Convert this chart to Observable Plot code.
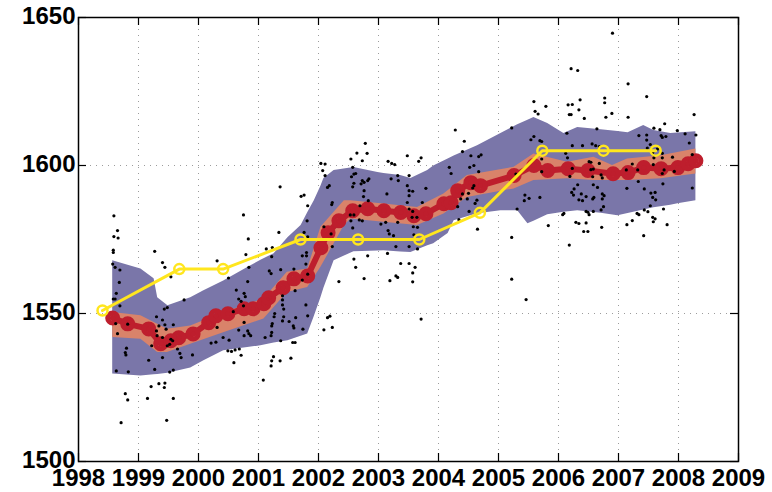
<!DOCTYPE html>
<html>
<head>
<meta charset="utf-8">
<script src="https://cdn.jsdelivr.net/npm/d3@7"></script>
<script src="https://cdn.jsdelivr.net/npm/@observablehq/plot@0.6"></script>
<style>
  html, body { margin: 0; padding: 0; background: #fff; }
  #chart { width: 772px; height: 492px; overflow: hidden; }
</style>
</head>
<body>
<div id="chart"></div>
<script>
// ---- tick labels ----
const xTicks = [1998, 1999, 2000, 2001, 2002, 2003, 2004, 2005, 2006, 2007, 2008, 2009];
const yTicks = [1500, 1550, 1600, 1650];
const xGrid = [1999, 2000, 2001, 2002, 2003, 2004, 2005, 2006, 2007, 2008];
const yGrid = [1550, 1600];

// ---- yellow series ----
const yellowYear = [1998.4, 1999.68, 2000.41, 2001.7, 2002.66, 2003.68, 2004.69, 2005.73, 2006.75, 2007.62];
const yellowVal  = [1551, 1565, 1565, 1575, 1575, 1575, 1584, 1605, 1605, 1605];

// ---- red series ----
const redYear = [1998.57, 1998.82, 1999.17, 1999.37, 1999.54, 1999.67, 1999.91, 2000.17, 2000.29, 2000.49,
  2000.76, 2000.91, 2001.09, 2001.17, 2001.41, 2001.59, 2001.82, 2002.04, 2002.16, 2002.34,
  2002.57, 2002.82, 2003.09, 2003.37, 2003.59, 2003.79, 2004.09, 2004.21, 2004.32, 2004.54,
  2004.70, 2005.26, 2005.59, 2005.82, 2006.16, 2006.49, 2006.91, 2007.16, 2007.42, 2007.71,
  2007.99, 2008.16, 2008.29];
const redVal = [1548.5, 1546.5, 1544.8, 1539.8, 1540.8, 1541.8, 1543.1, 1546.9, 1549.2, 1549.9,
  1551.6, 1551.6, 1553.3, 1555.3, 1558.7, 1561.7, 1562.7, 1572.2, 1577.3, 1581.3,
  1584.7, 1585.4, 1584.7, 1584.1, 1583.0, 1583.7, 1587.1, 1587.4, 1591.5, 1594.2,
  1593.2, 1596.6, 1600.0, 1598.3, 1598.9, 1598.3, 1597.2, 1597.6, 1599.3, 1598.9,
  1599.3, 1600.6, 1601.6];

// ---- wide (blue) band ----
const blueYear = [1998.57, 1999.04, 1999.26, 1999.32, 1999.49, 1999.87, 2000.09, 2000.42, 2000.82, 2001.04,
  2001.26, 2001.49, 2001.71, 2001.82, 2001.93, 2002.04, 2002.09, 2002.26, 2002.59, 2002.99,
  2003.09, 2003.37, 2003.54, 2003.82, 2003.92, 2004.16, 2004.26, 2004.65, 2005.04, 2005.32,
  2005.49, 2005.59, 2005.82, 2006.09, 2006.32, 2006.71, 2006.99, 2007.16, 2007.42, 2007.59,
  2007.87, 2007.99, 2008.29];
const blueUpper = [1567.8, 1565.0, 1561.7, 1555.3, 1552.6, 1555.3, 1557.7, 1561.0, 1565.5, 1568.0,
  1570.2, 1575.6, 1579.7, 1584.0, 1588.1, 1593.0, 1595.6, 1598.3, 1599.3, 1597.6,
  1597.3, 1596.6, 1595.6, 1598.3, 1599.8, 1602.2, 1603.2, 1606.7, 1610.8, 1613.8,
  1615.3, 1616.2, 1614.2, 1610.8, 1612.8, 1612.1, 1611.5, 1611.1, 1613.5, 1611.8,
  1610.8, 1611.0, 1611.4];
const blueLower = [1529.6, 1528.9, 1529.3, 1529.4, 1529.8, 1531.6, 1534.0, 1537.4, 1538.5, 1539.1,
  1540.0, 1540.8, 1542.3, 1543.1, 1549.0, 1555.3, 1558.5, 1567.8, 1570.9, 1571.1,
  1571.2, 1570.8, 1570.6, 1572.9, 1573.6, 1577.0, 1581.3, 1583.7, 1584.7, 1584.7,
  1580.3, 1581.2, 1583.4, 1584.2, 1584.7, 1583.9, 1583.0, 1583.8, 1585.0, 1585.7,
  1586.6, 1587.1, 1588.1];

// ---- narrow (orange) band ----
const orangeYear = [1998.57, 1999.04, 1999.32, 1999.48, 1999.87, 2000.43, 2001.09, 2001.48, 2001.82, 2002.04,
  2002.43, 2002.54, 2003.09, 2003.65, 2004.09, 2004.48, 2005.26, 2005.59, 2006.15, 2006.59,
  2006.90, 2007.15, 2007.71, 2008.29];
const orangeUpper = [1550.3, 1549.2, 1546.4, 1544.7, 1545.8, 1550.3, 1554.9, 1563.9, 1565.0, 1579.1,
  1588.1, 1588.1, 1587.0, 1585.8, 1590.4, 1596.6, 1599.4, 1603.9, 1601.1, 1602.8,
  1600.0, 1602.2, 1603.3, 1605.6];
const orangeLower = [1541.9, 1541.3, 1536.8, 1536.8, 1539.6, 1543.6, 1548.1, 1557.1, 1558.8, 1565.6,
  1579.7, 1581.9, 1580.8, 1579.7, 1583.6, 1589.2, 1592.1, 1594.9, 1595.5, 1594.9,
  1594.9, 1594.9, 1595.5, 1597.1];

// ---- scatter observations [year, value] ----
const scatter = [
 [1998.59,1583.0],[1998.65,1578.0],[1998.59,1576.0],[1998.66,1575.5],[1998.58,1571.4],[1998.58,1570.6],
 [1999.27,1571.0],[1999.40,1567.2],[1999.44,1565.6],[1998.57,1566.7],[1998.61,1565.6],[1998.69,1564.7],
 [1998.68,1560.5],[1999.54,1562.4],[1998.63,1556.8],[1998.58,1554.9],[1998.61,1554.9],[1998.69,1552.6],
 [1999.76,1554.6],[1999.48,1552.0],[1999.43,1551.5],[1999.30,1548.9],[1999.40,1547.8],[1999.34,1545.8],
 [1999.44,1546.2],[1999.58,1546.2],[1999.46,1544.7],[1998.62,1546.6],[1998.82,1546.4],[1999.30,1544.1],
 [1999.31,1542.5],[1999.40,1541.9],[1999.54,1541.3],[1999.57,1540.8],[1999.52,1539.6],[1999.48,1539.1],
 [1999.22,1539.1],[1999.40,1535.1],[1998.65,1543.2],[1998.80,1538.3],[1998.78,1536.8],[1998.79,1536.0],
 [1999.17,1534.2],[1999.65,1538.0],[1999.69,1536.5],[1999.90,1536.0],[1999.71,1535.1],[1998.63,1530.6],
 [1998.83,1530.3],[1999.27,1531.1],[1999.52,1530.2],[1999.58,1530.9],[1999.34,1526.3],[1999.44,1526.5],
 [1999.21,1525.3],[1999.43,1525.0],[1998.78,1522.9],[1998.82,1520.8],[1999.15,1521.3],[1999.58,1521.3],
 [1998.71,1513.1],[1999.47,1513.9],
 [2001.36,1592.8],[2001.71,1589.6],[2001.76,1590.0],[2001.82,1586.4],[2000.75,1583.3],[2001.81,1581.3],
 [2001.34,1577.4],[2000.83,1575.2],[2001.76,1577.4],[2001.82,1575.9],[2001.13,1571.8],[2001.23,1572.3],
 [2001.22,1569.2],[2001.80,1570.6],[2001.73,1569.5],[2001.80,1569.5],[2000.79,1569.9],[2000.31,1567.8],
 [2000.84,1565.6],[2001.18,1564.4],[2001.21,1563.5],[2001.37,1564.8],[2001.79,1566.7],[2000.50,1562.0],
 [2000.82,1560.8],[2001.73,1561.3],[2001.82,1563.3],[2001.59,1565.0],[2000.63,1557.9],[2000.76,1556.8],
 [2001.61,1557.7],[2000.67,1554.9],[2000.71,1554.1],[2000.78,1555.7],[2000.75,1552.6],[2000.58,1550.6],
 [2001.40,1554.6],[2001.40,1552.9],[2001.42,1551.5],[2001.40,1556.0],[2001.27,1550.0],[2001.26,1548.9],
 [2001.42,1548.9],[2001.62,1548.6],[2001.82,1549.2],[2001.23,1546.6],[2001.22,1545.8],[2001.40,1547.5],
 [2001.51,1547.3],[2001.58,1545.8],[2001.59,1545.1],[2001.74,1544.7],[2000.31,1545.3],[2000.76,1547.0],
 [2000.67,1544.4],[2000.82,1544.1],[2000.84,1543.2],[2000.87,1542.5],[2000.76,1542.5],[2001.22,1543.6],
 [2001.21,1542.5],[2001.11,1541.9],[2000.41,1541.9],[2000.51,1541.0],[2000.21,1540.0],[2000.29,1540.3],
 [2001.37,1540.8],[2001.57,1540.2],[2001.61,1540.2],[2000.49,1537.4],[2000.55,1537.2],[2000.61,1537.7],
 [2000.68,1538.0],[2000.71,1535.9],[2000.59,1533.4],[2001.25,1535.4],[2001.22,1534.0],[2001.36,1534.0],
 [2001.21,1532.3],[2001.54,1534.9],[2001.08,1527.5],
 [2002.78,1607.5],[2002.64,1604.2],[2002.81,1604.1],[2002.54,1602.2],[2002.73,1601.6],[2002.04,1600.7],
 [2002.11,1600.5],[2003.16,1601.4],[2003.22,1600.7],[2003.27,1600.3],[2002.07,1598.3],[2002.11,1596.6],
 [2002.57,1599.4],[2002.59,1597.1],[2002.62,1597.3],[2002.55,1596.2],[2002.73,1594.9],[2002.76,1594.3],
 [2002.84,1595.5],[2002.71,1593.8],[2002.82,1594.9],[2003.32,1596.6],[2003.33,1594.9],[2003.21,1595.5],
 [2003.48,1603.3],[2003.51,1596.6],[2003.48,1593.2],[2003.51,1591.5],[2002.15,1592.6],[2002.18,1593.2],
 [2002.59,1594.0],[2002.57,1592.8],[2002.76,1591.5],[2002.75,1589.5],[2003.51,1589.8],[2003.14,1590.4],
 [2003.48,1587.5],[2002.23,1587.5],[2002.22,1586.8],[2002.83,1588.1],[2002.69,1586.4],[2002.59,1583.3],
 [2002.53,1583.3],[2002.54,1581.3],[2002.57,1578.9],[2002.68,1581.6],[2002.73,1581.3],[2003.04,1580.2],
 [2003.12,1580.8],[2003.32,1580.8],[2003.16,1578.0],[2003.18,1576.9],[2003.25,1576.3],[2002.09,1579.3],
 [2002.21,1576.9],[2002.23,1572.6],[2003.29,1572.6],[2002.82,1569.5],[2002.59,1568.4],[2002.62,1565.6],
 [2003.15,1570.3],[2003.37,1566.9],[2003.51,1566.9],[2002.34,1560.8],[2002.76,1561.8],[2003.19,1561.1],
 [2003.29,1562.7],[2003.32,1562.2],[2001.79,1552.9],[2002.15,1548.6],[2002.19,1549.1],[2002.23,1545.3],
 [2002.09,1544.5],
 [2004.28,1612.0],[2005.22,1612.7],[2004.43,1608.2],[2004.40,1604.7],[2004.54,1603.3],[2004.67,1603.0],
 [2004.71,1603.6],[2003.71,1602.6],[2003.67,1601.4],[2004.18,1599.4],[2004.21,1597.3],[2004.59,1600.0],
 [2004.52,1599.4],[2004.67,1597.9],[2003.79,1592.3],[2003.57,1591.3],[2003.51,1585.3],[2003.57,1584.5],
 [2003.56,1582.5],[2003.64,1582.5],[2003.73,1587.5],[2004.59,1593.2],[2004.57,1592.4],[2004.50,1590.6],
 [2004.40,1590.4],[2004.37,1588.7],[2004.48,1588.7],[2004.64,1588.3],[2004.61,1587.2],[2004.32,1586.1],
 [2004.51,1584.5],[2004.34,1581.7],[2004.65,1578.5],[2003.58,1579.3],[2003.65,1579.1],[2003.59,1576.6],
 [2003.51,1572.6],[2003.65,1571.8],[2003.61,1565.6],[2003.57,1563.7],[2003.57,1560.7],[2005.22,1575.7],
 [2005.22,1561.6],[2003.71,1548.1],
 [2006.21,1632.7],[2006.32,1632.1],[2005.59,1621.6],[2005.79,1620.0],[2006.16,1620.5],[2006.23,1620.6],
 [2006.36,1622.2],[2006.77,1622.8],[2006.77,1621.2],[2005.61,1618.3],[2005.66,1617.4],[2006.18,1617.2],
 [2006.21,1617.2],[2006.34,1618.8],[2006.43,1615.9],[2006.79,1616.3],[2006.89,1617.6],[2006.14,1610.9],
 [2006.64,1612.4],[2005.54,1608.7],[2005.59,1609.8],[2005.69,1608.4],[2005.72,1608.1],[2006.23,1606.7],
 [2006.40,1606.7],[2006.56,1607.3],[2006.62,1606.7],[2006.68,1606.4],[2006.12,1604.1],[2006.15,1602.6],
 [2006.51,1601.3],[2006.54,1601.1],[2006.68,1600.7],[2005.72,1602.2],[2006.23,1599.0],[2006.54,1598.6],
 [2006.58,1598.8],[2005.72,1597.9],[2006.19,1596.3],[2006.57,1596.2],[2006.71,1596.8],[2006.73,1595.8],
 [2005.29,1597.1],[2006.32,1593.5],[2006.58,1593.5],[2006.65,1592.6],[2006.26,1592.1],[2006.22,1590.9],
 [2006.25,1590.0],[2006.38,1590.4],[2006.46,1589.5],[2006.59,1589.2],[2006.73,1590.4],[2006.76,1589.8],
 [2006.34,1588.4],[2006.40,1588.1],[2006.57,1588.7],[2006.73,1588.7],[2005.44,1590.0],[2005.51,1588.9],
 [2005.43,1588.1],[2005.69,1589.2],[2005.31,1585.3],[2006.09,1583.8],[2006.07,1583.4],[2006.46,1584.5],
 [2006.49,1584.2],[2006.51,1583.4],[2006.58,1584.5],[2006.71,1585.0],[2006.75,1586.1],[2006.29,1580.8],
 [2006.34,1580.4],[2006.46,1580.6],[2005.83,1579.7],[2006.42,1577.7],[2006.49,1577.7],[2006.72,1579.1],
 [2006.18,1573.1],[2005.46,1554.7],
 [2006.90,1644.7],[2007.16,1627.6],[2007.47,1623.3],[2007.16,1616.3],[2008.26,1617.2],[2007.77,1614.1],
 [2007.59,1612.6],[2007.69,1612.1],[2007.34,1610.1],[2007.47,1610.3],[2007.71,1610.1],[2007.73,1609.5],
 [2007.79,1609.8],[2007.98,1611.8],[2008.11,1610.7],[2008.29,1610.3],[2007.47,1608.6],[2007.53,1607.1],
 [2008.18,1607.6],[2007.48,1605.9],[2007.65,1605.6],[2007.73,1604.1],[2007.57,1604.4],[2008.23,1603.7],
 [2007.90,1602.8],[2007.59,1602.6],[2007.73,1602.6],[2007.23,1600.5],[2007.58,1600.3],[2007.32,1598.5],
 [2007.13,1598.5],[2007.76,1598.5],[2007.73,1597.3],[2007.93,1598.0],[2007.33,1594.6],[2007.74,1593.8],
 [2007.14,1592.3],[2007.43,1592.1],[2008.23,1592.4],[2007.54,1590.7],[2007.61,1590.9],[2007.57,1589.2],
 [2007.62,1588.4],[2007.53,1586.4],[2007.75,1585.3],[2007.43,1585.0],[2007.49,1584.4],[2007.31,1583.8],
 [2007.34,1583.4],[2007.57,1582.5],[2007.61,1582.0],[2007.58,1581.0],[2007.23,1581.4],[2007.14,1580.0],
 [2007.81,1580.0],[2007.42,1576.3]
];

// ---- tables built from the arrays ----
const yellow = yellowYear.map((x, i) => ({x, y: yellowVal[i]}));
const red = redYear.map((x, i) => ({x, y: redVal[i]}));
const blue = blueYear.map((x, i) => ({x, lo: blueLower[i], hi: blueUpper[i]}));
const orange = orangeYear.map((x, i) => ({x, lo: orangeLower[i], hi: orangeUpper[i]}));

const W = 772, H = 492;
const mL = 78, mR = 34, mT = 17, mB = 31;
const plotH = H - mT - mB, plotW = W - mL - mR;
const tick = 8;

const COL_BLUE = "#7a76a9";
const COL_ORANGE = "#d9836a";
const COL_RED = "#be1e2d";
const COL_YELLOW = "#ffe61e";

const chart = Plot.plot({
  width: W, height: H,
  marginLeft: mL, marginRight: mR, marginTop: mT, marginBottom: mB,
  x: {domain: [1998, 2009], label: null},
  y: {domain: [1500, 1650], label: null},
  style: {fontFamily: "'Liberation Sans', Arial, Helvetica, sans-serif", fontSize: "24px", fontWeight: "bold", color: "#000", background: "#fff", overflow: "visible"},
  marks: [
    Plot.ruleX(xGrid, {stroke: "#9c9c9c", strokeWidth: 1, strokeDasharray: "1,5"}),
    Plot.ruleY(yGrid, {stroke: "#9c9c9c", strokeWidth: 1, strokeDasharray: "1,5"}),
    Plot.areaY(blue, {x: "x", y1: "lo", y2: "hi", fill: COL_BLUE}),
    Plot.areaY(orange, {x: "x", y1: "lo", y2: "hi", fill: COL_ORANGE}),
    Plot.line(red, {x: "x", y: "y", stroke: COL_RED, strokeWidth: 6, strokeLinejoin: "round"}),
    Plot.dot(red, {x: "x", y: "y", r: 5, stroke: COL_RED, strokeWidth: 5, fill: "none"}),
    Plot.dot(scatter, {x: d => d[0], y: d => d[1], r: 1.6, fill: "#000", stroke: "none"}),
    Plot.line(yellow, {x: "x", y: "y", stroke: COL_YELLOW, strokeWidth: 3}),
    Plot.dot(yellow, {x: "x", y: "y", r: 5, stroke: COL_YELLOW, strokeWidth: 2.5, fill: "none"}),
    // inward MATLAB-style ticks
    Plot.ruleX(xTicks, {stroke: "#000", strokeWidth: 1.2, insetTop: plotH - tick}),
    Plot.ruleX(xTicks, {stroke: "#000", strokeWidth: 1.2, insetBottom: plotH - tick}),
    Plot.ruleY(yTicks, {stroke: "#000", strokeWidth: 1.2, insetRight: plotW - tick}),
    Plot.ruleY(yTicks, {stroke: "#000", strokeWidth: 1.2, insetLeft: plotW - tick}),
    Plot.frame({stroke: "#000", strokeWidth: 1.5}),
    Plot.axisX({ticks: xTicks, label: null, tickSize: 0, tickPadding: 7, tickFormat: d => String(d), fontSize: 24, fontWeight: "bold"}),
    Plot.axisY({ticks: yTicks, label: null, tickSize: 0, tickPadding: 3, dy: -1, tickFormat: d => String(d), fontSize: 24, fontWeight: "bold"})
  ]
});
document.getElementById("chart").append(chart);
</script>
</body>
</html>
